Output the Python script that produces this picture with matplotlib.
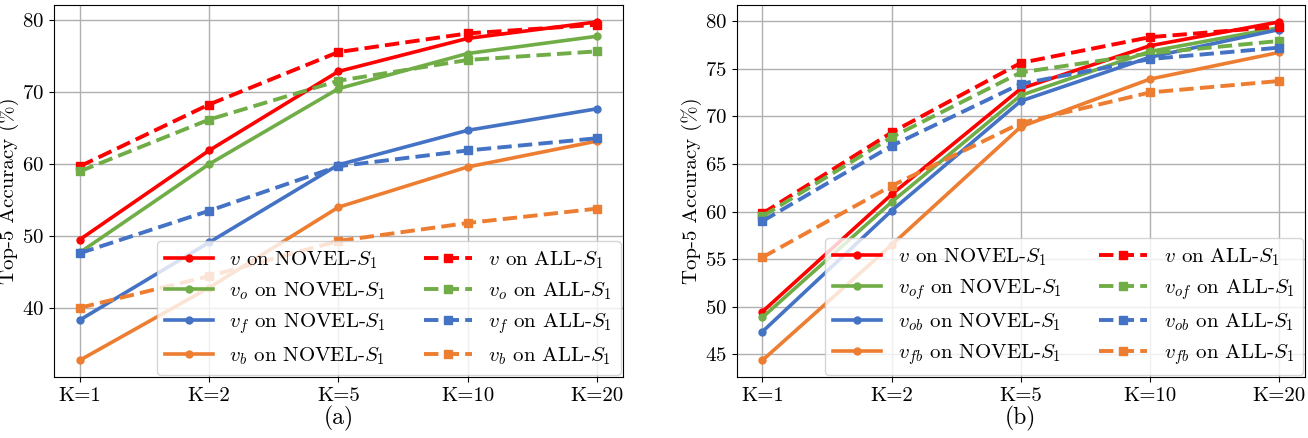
import numpy as np
import matplotlib
matplotlib.use('Agg')
import matplotlib.pyplot as plt

plt.rcParams['font.family'] = 'cmr10'
plt.rcParams['mathtext.fontset'] = 'cm'
plt.rcParams['axes.formatter.use_mathtext'] = True

# datos
k_labels = ['K=1', 'K=2', 'K=5', 'K=10', 'K=20']

# panel (a)
a_v_novel = [49.5, 61.9, 72.9, 77.5, 79.8]
a_vo_novel = [47.7, 60.0, 70.5, 75.4, 77.8]
a_vf_novel = [38.3, 49.1, 59.9, 64.7, 67.7]
a_vb_novel = [32.7, 42.8, 54.0, 59.6, 63.2]
a_v_all = [59.7, 68.3, 75.6, 78.2, 79.4]
a_vo_all = [59.0, 66.2, 71.6, 74.5, 75.7]
a_vf_all = [47.6, 53.5, 59.7, 61.9, 63.6]
a_vb_all = [40.0, 44.4, 49.3, 51.8, 53.8]

# panel (b)
b_v_novel = [49.5, 61.8, 72.9, 77.4, 79.9]
b_vof_novel = [48.9, 61.0, 72.2, 76.8, 79.3]
b_vob_novel = [47.4, 60.1, 71.6, 76.2, 79.1]
b_vfb_novel = [44.4, 56.5, 68.9, 73.9, 76.7]
b_v_all = [59.8, 68.3, 75.6, 78.3, 79.4]
b_vof_all = [59.5, 67.8, 74.6, 76.6, 77.9]
b_vob_all = [59.0, 66.9, 73.4, 76.0, 77.2]
b_vfb_all = [55.2, 62.7, 69.3, 72.5, 73.7]

colores = ['#ff0000', '#70ad47', '#4472c4', '#ed7d31']

fig = plt.figure(figsize=(13.08, 4.38), dpi=100)
ax1 = fig.add_axes([0.0413, 0.139, 0.4347, 0.8496])
ax2 = fig.add_axes([0.5632, 0.139, 0.4345, 0.8496])

x = np.arange(len(k_labels))


def dibujar(ax, novel, allset, nombres, etiqueta):
    for serie, nombre, c in zip(novel, nombres, colores):
        ax.plot(x, serie, '-', color=c, lw=2.6, marker='o', ms=5,
                label=r'$%s$ on NOVEL-$S_1$' % nombre)
    for serie, nombre, c in zip(allset, nombres, colores):
        ax.plot(x, serie, '--', color=c, lw=2.8, marker='s', ms=5.5,
                label=r'$%s$ on ALL-$S_1$' % nombre)
    ax.set_xticks(x)
    ax.set_xticklabels(k_labels)
    ax.grid(True, color='#b0b0b0', lw=1)
    ax.set_axisbelow(True)
    ax.tick_params(labelsize=15)
    ax.set_ylabel('Top-5 Accuracy (%)', fontsize=15, labelpad=2)
    ax.set_xlabel(etiqueta, fontsize=17, labelpad=1)
    ax.legend(ncol=2, loc='lower right', fontsize=15, borderaxespad=0.1,
              handlelength=2.3, columnspacing=1.8, labelspacing=0.45)


dibujar(ax1, [a_v_novel, a_vo_novel, a_vf_novel, a_vb_novel],
        [a_v_all, a_vo_all, a_vf_all, a_vb_all],
        ['v', 'v_o', 'v_f', 'v_b'], '(a)')
dibujar(ax2, [b_v_novel, b_vof_novel, b_vob_novel, b_vfb_novel],
        [b_v_all, b_vof_all, b_vob_all, b_vfb_all],
        ['v', 'v_{of}', 'v_{ob}', 'v_{fb}'], '(b)')
ax1.set_yticks([40, 50, 60, 70, 80])
ax2.set_yticks([45, 50, 55, 60, 65, 70, 75, 80])

fig.savefig('out.png', dpi=100)
